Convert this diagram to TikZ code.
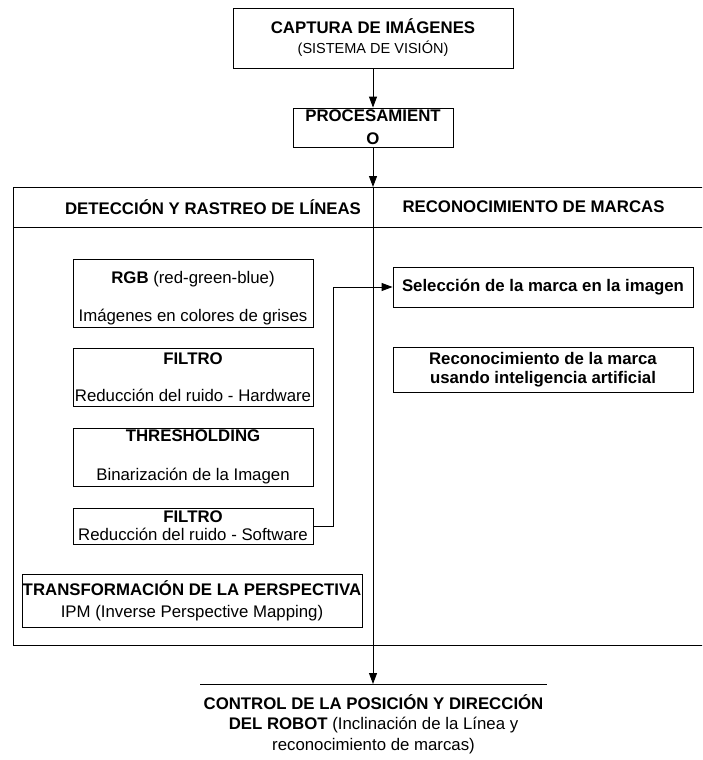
\documentclass[tikz,border=0pt]{standalone}
\usepackage{fontspec}
\setmainfont{Liberation Sans}
\usetikzlibrary{arrows.meta}

\begin{document}
\begin{tikzpicture}[x=1pt,y=1pt,yscale=-1,xscale=1,
  caja/.style={draw,line width=0.9pt,align=center,inner sep=0pt,font=\fontsize{16.8}{19}\selectfont},
  texto/.style={align=center,inner sep=0pt,font=\fontsize{16.8}{19}\selectfont},
  flecha/.style={line width=0.9pt,-{Triangle[length=11pt,width=8pt]}},
  linea/.style={line width=0.9pt}]
\clip (0,0) rectangle (702,760);

%Shape: Rectangle [marco]
\node [caja,anchor=north west,minimum width=693,minimum height=458] (marco) at (13,187) {};
%Straight Lines [cabecera]
\draw [linea] (13,227) -- (706,227) ;

% Text Node
\node [caja,minimum width=280,minimum height=60] (captura) at (373,38) {\textbf{CAPTURA DE IMÁGENES}\\[1pt]{\fontsize{14.5}{17}\selectfont(SISTEMA DE VISIÓN)}};
% Text Node
\node [caja,minimum width=160,minimum height=39] (proc) at (373,127.5) {\textbf{PROCESAMIENT}\\[4pt]\textbf{O}};

% Text Node
\node [texto] (titulo1) at (213,207) {\textbf{DETECCIÓN Y RASTREO DE LÍNEAS}};
% Text Node
\node [texto] (titulo2) at (533.5,207) {\textbf{RECONOCIMIENTO DE MARCAS}};

%Shape: Rectangle [rgb]
\node [caja,minimum width=240,minimum height=68] (rgb) at (193,293) {\rule{0pt}{22pt}\textbf{RGB} (red-green-blue)\\[19pt]Imágenes en colores de grises};
%Shape: Rectangle [filtro hardware]
\node [caja,minimum width=240,minimum height=58] (filtro1) at (193,377) {\textbf{FILTRO}\\[18pt]Reducción del ruido - Hardware};
%Shape: Rectangle [thresholding]
\node [caja,minimum width=240,minimum height=58] (umbral) at (193,457) {\textbf{THRESHOLDING}\\[20pt]Binarización de la Imagen};
%Shape: Rectangle [filtro software]
\node [caja,minimum width=240,minimum height=36,font=\fontsize{16.8}{18}\selectfont] (filtro2) at (193,526) {\textbf{FILTRO}\\Reducción del ruido - Software};
%Shape: Rectangle [ipm]
\node [caja,minimum width=340,minimum height=53] (ipm) at (192,600.5) {\textbf{TRANSFORMACIÓN DE LA PERSPECTIVA}\\[3pt]IPM (Inverse Perspective Mapping)};

%Shape: Rectangle [seleccion]
\node [caja,minimum width=300,minimum height=40] (seleccion) at (543,287) {\textbf{Selección de la marca en la imagen}};
%Shape: Rectangle [reconocimiento]
\node [caja,minimum width=300,minimum height=45] (reconoc) at (543,369.5) {\textbf{Reconocimiento de la marca}\\\textbf{usando inteligencia artificial}};

% Text Node
\node [texto,anchor=north,minimum width=346,minimum height=76] (control) at (373.5,684) {};
\node [texto,font=\fontsize{16.8}{20.5}\selectfont] (controltxt) at (373.5,724) {\textbf{CONTROL DE LA POSICIÓN Y DIRECCIÓN}\\\textbf{DEL ROBOT} (Inclinación de la Línea y\\reconocimiento de marcas)};
\draw [linea] (control.north west) -- (control.north east) ;

% Connectors
\coordinate (entrada) at (proc.south |- marco.north);
\draw [flecha] (captura) -- (proc) ;
\draw [flecha] (proc.south) -- (entrada) ;
\draw [flecha] (entrada) -- (entrada |- control.north) ;
\draw [flecha] (filtro2.east) -- ++(20,0) |- (seleccion.west) ;

\end{tikzpicture}
\end{document}
